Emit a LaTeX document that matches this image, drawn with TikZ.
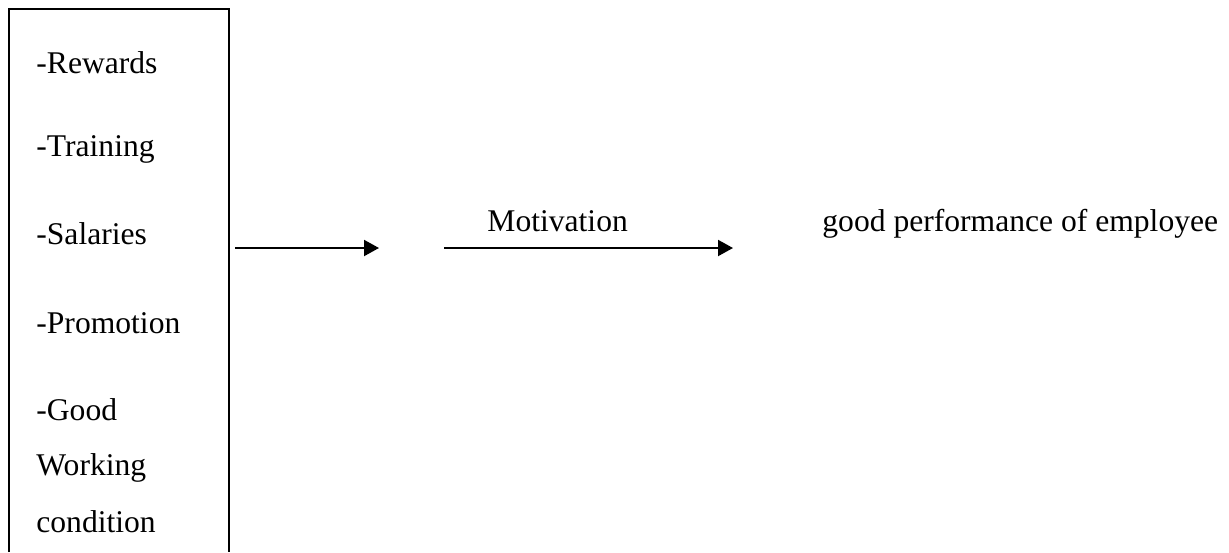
\documentclass[tikz,border=0pt]{standalone}
\usepackage{fontspec}
\setmainfont{Liberation Serif}
\usetikzlibrary{arrows.meta}
\begin{document}
\begin{tikzpicture}[x=0.5pt, y=-0.5pt,
        every node/.style={font=\fontsize{15.8}{19}\selectfont, inner sep=0pt},
        flow/.style={-{Triangle[length=7.5pt,width=8pt]}, line width=1pt}]
        \useasboundingbox (0,0) rectangle (1229,552);
        % factor box, open at the bottom
        \draw[line width=0.65pt] (9,552) -- (9,9) -- (229,9) -- (229,552);
        \foreach \t/\y [count=\i] in {-Rewards/73, -Training/156, -Salaries/244,
        -Promotion/333, -Good/420, Working/475, condition/532}
        \node[anchor=base west] (item\i) at (36,\y) {\t};
        \node[anchor=base west] (motiv) at (487,231) {Motivation};
        \node[anchor=base west] (perf) at (822,231) {good performance of employee};
        \coordinate (a1) at (235,248);
        \coordinate (a2) at (379,248);
        \coordinate (b1) at (444,248);
        \coordinate (b2) at (733,248);
        \draw[flow] (a1) -- (a2);
        \draw[flow] (b1) -- (b2);
    \end{tikzpicture}
\end{document}
